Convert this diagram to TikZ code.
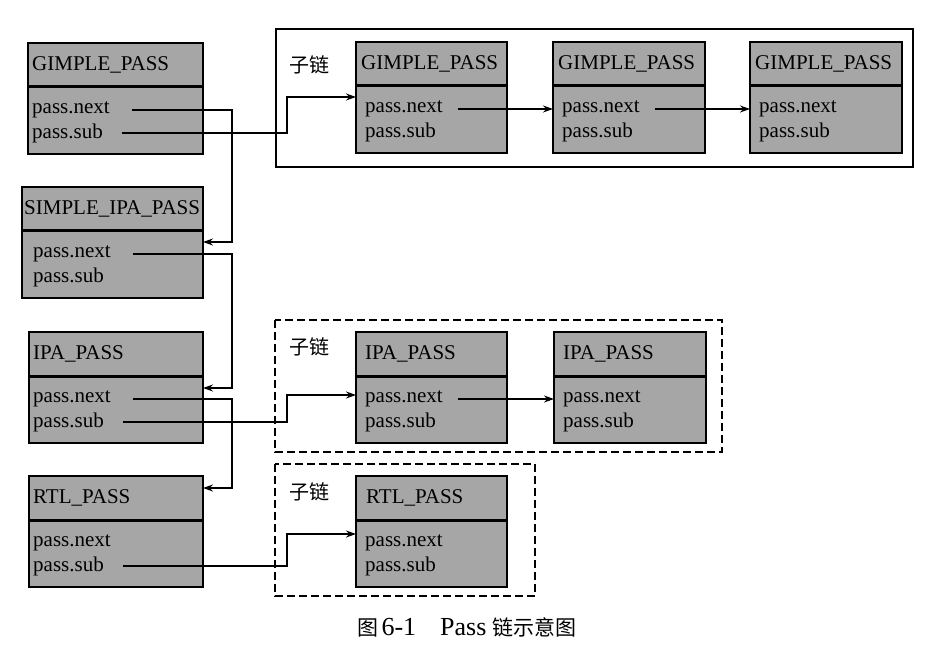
\documentclass[tikz,border=0pt]{standalone}
\usepackage{fontspec}
\setmainfont{Liberation Serif}
\newfontfamily\cjk{Noto Sans CJK SC}
\usepackage{tikz}
\usetikzlibrary{arrows.meta}
\definecolor{boxgray}{RGB}{166,166,166}
\tikzstyle{passhead} = [draw,line width=1.3pt,fill=boxgray,minimum height=44pt,anchor=north west,inner sep=0pt,outer sep=0pt]
\tikzstyle{passbody} = [draw,line width=1.3pt,fill=boxgray,minimum height=67pt,anchor=north west,inner sep=0pt,outer sep=0pt]
\tikzstyle{divider} = [line width=3pt]
\tikzstyle{passtext} = [anchor=west,inner sep=0pt,font=\fontsize{21}{24}\selectfont]
\tikzstyle{arrow} = [line width=1.3pt,-{Stealth[length=10pt,width=7pt]}]
\tikzstyle{subchain} = [line width=1.3pt]
\tikzstyle{sublabel} = [font=\cjk\fontsize{20}{22}\selectfont]
% one pass struct: name, north west corner, width, title inset, field inset, title
\newcommand{\passblock}[6]{%
  \node[passhead,minimum width=#3] (#1h) at #2 {};
  \node[passbody,minimum width=#3] (#1b) at (#1h.south west) {};
  \draw[divider] (#1h.south west) -- (#1h.south east);
  \node[passtext] (#1t) at ([xshift=#4]#1h.west) {#6};
  \node[passtext] (#1n) at ([xshift=#5,yshift=-23pt]#1h.south west) {pass.next};
  \node[passtext] (#1s) at ([yshift=-23pt]#1n.west) {pass.sub};
}
\begin{document}
\begin{tikzpicture}[x=1pt,y=1pt]
  \useasboundingbox (0,0) rectangle (944,-668);
  % sub-chain frames
  \draw[subchain] (276,-29) rectangle (913,-167);
  \draw[subchain,dash pattern=on 8pt off 4pt] (275,-320) rectangle (722,-452);
  \draw[subchain,dash pattern=on 8pt off 4pt] (275,-464) rectangle (535,-596);
  \node[sublabel] (l1) at (309,-65) {子链};
  \node[sublabel] (l2) at (309,-347) {子链};
  \node[sublabel] (l3) at (309,-492) {子链};
  % main chain
  \passblock{g0}{(28,-43)}{175pt}{4pt}{4pt}{GIMPLE\_PASS}
  \passblock{s0}{(22,-187)}{181pt}{2pt}{11pt}{SIMPLE\_IPA\_PASS}
  \passblock{i0}{(29,-332)}{174pt}{4pt}{4pt}{IPA\_PASS}
  \passblock{r0}{(29,-476)}{174pt}{4pt}{4pt}{RTL\_PASS}
  % sub chains
  \passblock{g1}{(356,-42)}{151pt}{5pt}{9pt}{GIMPLE\_PASS}
  \passblock{g2}{(553,-42)}{152pt}{5pt}{9pt}{GIMPLE\_PASS}
  \passblock{g3}{(750,-42)}{152pt}{5pt}{9pt}{GIMPLE\_PASS}
  \passblock{i1}{(356,-332)}{151pt}{9pt}{9pt}{IPA\_PASS}
  \passblock{i2}{(554,-332)}{152pt}{9pt}{9pt}{IPA\_PASS}
  \passblock{r1}{(356,-476)}{151pt}{10pt}{9pt}{RTL\_PASS}
  % pass.next links
  \draw[arrow] ([xshift=22pt]g0n.east) -| ([xshift=29pt,yshift=-11pt]s0h.south east) -- ([yshift=-11pt]s0h.south east);
  \draw[arrow] ([xshift=22pt]s0n.east) -| ([xshift=29pt,yshift=-12pt]i0h.south east) -- ([yshift=-12pt]i0h.south east);
  \draw[arrow] ([xshift=22pt]i0n.east) -| ([xshift=29pt,yshift=-12pt]r0h.north east) -- ([yshift=-12pt]r0h.north east);
  \draw[arrow] ([xshift=15pt]g1n.east) -- (g1n.east -| g2b.west);
  \draw[arrow] ([xshift=15pt]g2n.east) -- (g2n.east -| g3b.west);
  \draw[arrow] ([xshift=15pt]i1n.east) -- (i1n.east -| i2b.west);
  % pass.sub links
  \draw[arrow] ([xshift=19pt]g0s.east) -| ([xshift=-69pt,yshift=-11pt]g1h.south west) -- ([yshift=-11pt]g1h.south west);
  \draw[arrow] ([xshift=19pt]i0s.east) -| ([xshift=-69pt,yshift=-19pt]i1h.south west) -- ([yshift=-19pt]i1h.south west);
  \draw[arrow] ([xshift=19pt]r0s.east) -| ([xshift=-69pt,yshift=-14pt]r1h.south west) -- ([yshift=-14pt]r1h.south west);
  % caption
  \node[font=\fontsize{26}{28}\selectfont] (cap) at (467,-627) {{\cjk\fontsize{21}{22}\selectfont 图}\hspace{3pt}6-1\hspace{24pt}Pass\hspace{6pt}{\cjk\fontsize{21}{22}\selectfont 链示意图}};
\end{tikzpicture}
\end{document}
